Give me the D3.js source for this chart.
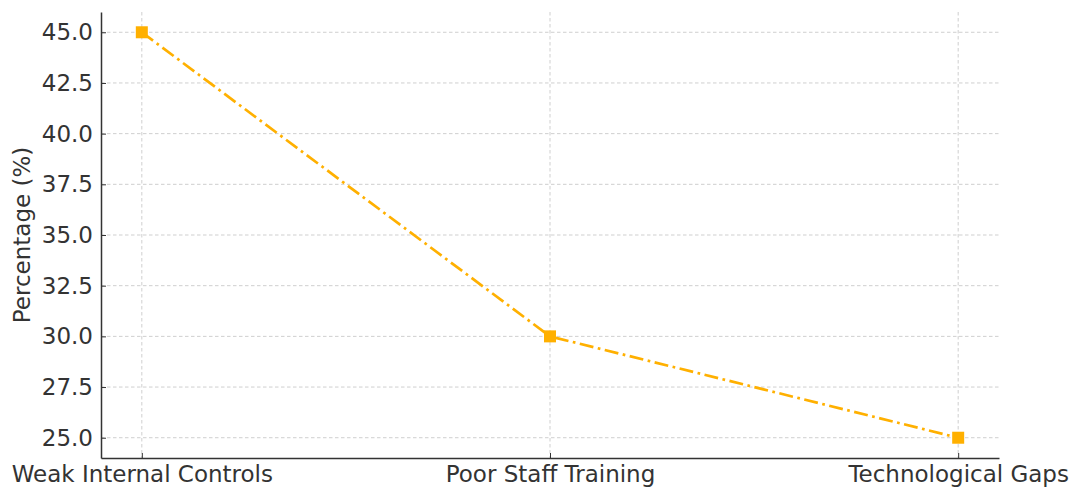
<!DOCTYPE html>
<html><head><meta charset="utf-8">
<script src="https://cdn.jsdelivr.net/npm/d3@7"></script>
<style>body{margin:0;background:#fff}text{font-family:"DejaVu Sans",sans-serif}</style>
</head><body>
<svg id="c" width="1074" height="489"></svg>
<script>
const categories = ["Weak Internal Controls", "Poor Staff Training", "Technological Gaps"];
const values = [45, 30, 25];
const yTicks = [25.0, 27.5, 30.0, 32.5, 35.0, 37.5, 40.0, 42.5, 45.0];

const svg = d3.select("#c");
const m = {l: 101, r: 999, t: 12, b: 458};
const x = d3.scaleLinear().domain([-0.1, 2.1]).range([m.l, m.r]);
const y = d3.scaleLinear().domain([24, 46]).range([m.b, m.t]);
const ink = "#333";

// grid
svg.append("g").selectAll("line").data(yTicks).join("line")
  .attr("x1", m.l).attr("x2", m.r).attr("y1", d => y(d)).attr("y2", d => y(d))
  .attr("stroke", "#cfcfcf").attr("stroke-width", 1).attr("stroke-dasharray", "3.5,2.5");
svg.append("g").selectAll("line").data(categories).join("line")
  .attr("x1", (d,i) => x(i)).attr("x2", (d,i) => x(i)).attr("y1", m.t).attr("y2", m.b)
  .attr("stroke", "#cfcfcf").attr("stroke-width", 1).attr("stroke-dasharray", "3.5,2.5");

// axes
const ya = d3.axisLeft(y).tickValues(yTicks).tickFormat(d3.format(".1f")).tickSizeInner(-5).tickSizeOuter(0).tickPadding(8);
const gy = svg.append("g").attr("transform", `translate(${m.l},0)`).call(ya);
const xa = d3.axisBottom(x).tickValues([0,1,2]).tickFormat(i => categories[i]).tickSizeInner(-5).tickSizeOuter(0).tickPadding(8);
const gx = svg.append("g").attr("transform", `translate(0,${m.b})`).call(xa);
[gy, gx].forEach(g => {
  g.select(".domain").attr("stroke", ink).attr("stroke-width", 1.5);
  g.selectAll(".tick line").attr("stroke", ink).attr("stroke-width", 1);
  g.selectAll(".tick text").attr("fill", ink).style("font-size", "23px").style("font-family", "DejaVu Sans");
});
gx.selectAll(".tick text").attr("dy", "0.71em");

// y label
svg.append("text").attr("transform", `translate(30,${(m.t+m.b)/2}) rotate(-90)`)
  .attr("text-anchor", "middle").attr("fill", ink).style("font-size", "23px").text("Percentage (%)");

// line
const line = d3.line().x((d,i) => x(i)).y(d => y(d));
svg.append("path").datum(values).attr("d", line).attr("fill", "none")
  .attr("stroke", "#FFB000").attr("stroke-width", 2.7).attr("stroke-dasharray", "14,4.5,2.7,4.5");
svg.append("g").selectAll("rect").data(values).join("rect")
  .attr("x", (d,i) => x(i) - 6).attr("y", d => y(d) - 6).attr("width", 12).attr("height", 12)
  .attr("fill", "#FFB000");
</script>
</body></html>
